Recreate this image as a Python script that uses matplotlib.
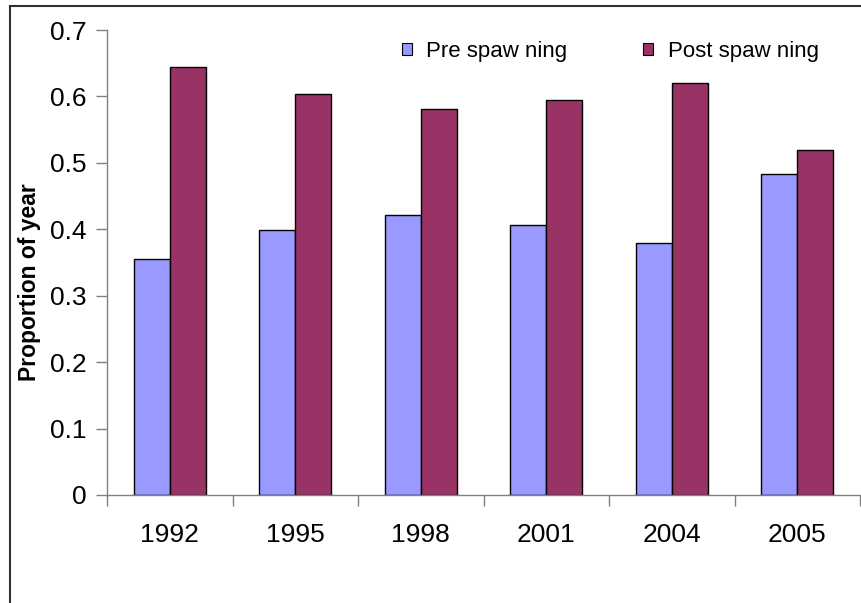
import numpy as np
import matplotlib
matplotlib.use('Agg')
import matplotlib.pyplot as plt
from matplotlib.lines import Line2D

plt.rcParams['font.family'] = ['Liberation Sans', 'DejaVu Sans']

years = ['1992', '1995', '1998', '2001', '2004', '2005']
pre_spawning = [0.356, 0.399, 0.422, 0.406, 0.380, 0.483]
post_spawning = [0.645, 0.603, 0.581, 0.594, 0.620, 0.519]
y_ticks = [0, 0.1, 0.2, 0.3, 0.4, 0.5, 0.6, 0.7]

W, H = 861, 603
fig = plt.figure(figsize=(W / 100, H / 100), dpi=100)
ax = fig.add_axes([107 / W, 1 - 495 / H, 753 / W, 465 / H])

x = np.arange(len(years))
width = 0.287
ax.bar(x - width / 2, pre_spawning, width, color='#9999FF', edgecolor='black', linewidth=1.0,
       label='Pre spaw ning')
ax.bar(x + width / 2, post_spawning, width, color='#993366', edgecolor='black', linewidth=1.0,
       label='Post spaw ning')

ax.set_xlim(-0.5, len(years) - 0.5)
ax.set_ylim(0, 0.7)

# y axis: outward ticks, grey spine
ax.set_yticks(y_ticks)
ax.set_yticklabels(['0' if v == 0 else f'{v:.1f}' for v in y_ticks], fontsize=19)
ax.tick_params(axis='y', direction='out', length=8, width=1, color='#808080', pad=7)

# x axis: ticks at category boundaries, labels centred
ax.set_xticks(np.arange(-0.5, len(years) - 0.4, 1.0))
ax.set_xticklabels([])
ax.set_xticks(x, minor=True)
ax.set_xticklabels(years, minor=True, fontsize=19)
ax.tick_params(axis='x', which='major', direction='out', length=8, width=1, color='#808080')
ax.tick_params(axis='x', which='minor', length=0, pad=20)

for side in ['top', 'right']:
    ax.spines[side].set_visible(False)
for side in ['left', 'bottom']:
    ax.spines[side].set_color('#808080')
    ax.spines[side].set_linewidth(1)

fig.text(30 / W, 1 - 282 / H, 'Proportion of year', rotation=90, fontsize=16.5, fontweight='bold',
         ha='center', va='center')

leg = ax.legend(loc='center left', bbox_to_anchor=(402 / W, 1 - 51 / H), bbox_transform=fig.transFigure,
                ncol=2, frameon=False, fontsize=16, handlelength=0.45, handleheight=0.45,
                handletextpad=0.65, columnspacing=3.4, borderpad=0, borderaxespad=0)
for p in leg.get_patches():
    p.set_linewidth(0.8)

# outer chart frame (cut off at right and bottom)
fig.add_artist(Line2D([9.5 / W, 9.5 / W], [1 - 6 / H, 0], transform=fig.transFigure,
                      color='#303030', linewidth=1.5))
fig.add_artist(Line2D([9.5 / W, 1], [1 - 6 / H, 1 - 6 / H], transform=fig.transFigure,
                      color='#303030', linewidth=1.5))

fig.savefig('out.png', dpi=100)
